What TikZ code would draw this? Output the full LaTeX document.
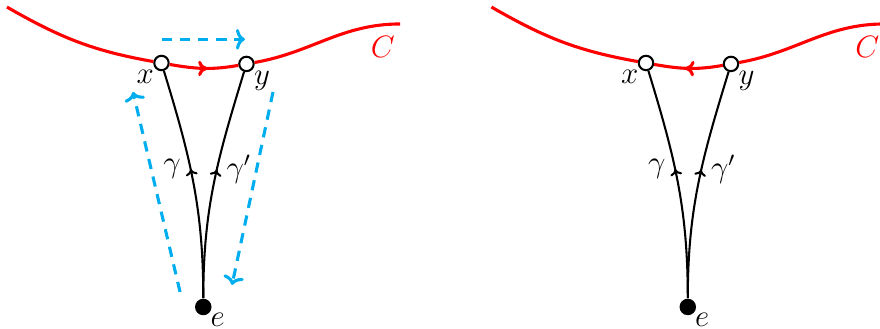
\documentclass[tikz,border=0pt]{standalone}
\usetikzlibrary{arrows.meta,positioning,calc,decorations.markings}
\definecolor{curvered}{RGB}{255,0,0}
\definecolor{moveblue}{RGB}{0,174,239}
\tikzset{
  pt/.style={circle, draw=black, fill=white, line width=0.8pt, inner sep=0pt, minimum size=5.6pt},
  base/.style={circle, fill=black, inner sep=0pt, minimum size=6.4pt},
  lbl/.style={inner sep=0.5pt},
  curve/.style={color=curvered, line width=1.2pt},
  geod/.style={draw=black, line width=0.8pt, postaction={decorate},
               decoration={markings, mark=at position 0.56 with {\arrow{Computer Modern Rightarrow[length=2.4pt,width=4.6pt]}}}},
  fwd/.style={postaction={decorate},
              decoration={markings, mark=at position 0.55 with {\arrow{Computer Modern Rightarrow[length=3.6pt,width=6pt]}}}},
  bwd/.style={postaction={decorate},
              decoration={markings, mark=at position 0.45 with {\arrowreversed{Computer Modern Rightarrow[length=3.6pt,width=6pt]}}}},
  move/.style={draw=moveblue, line width=1.2pt, dash pattern=on 4pt off 3pt,
               -{Computer Modern Rightarrow[length=3.5pt,width=8pt]}},
}

\begin{document}
\begin{tikzpicture}[font=\large]
  \useasboundingbox (0,0) rectangle (12,4.486);

  % left panel
  \begin{scope}
    \node[pt, label={[lbl]below left:$x$}] (xa) at (2.202,3.627) {};
    \node[pt, label={[lbl]below right:$y$}] (ya) at (3.361,3.614) {};
    \node[base, label={[lbl,inner sep=0pt]-40:$e$}] (ea) at (2.772,0.30) {};
    \coordinate (ca) at (0.095,4.39);
    \coordinate (da) at (5.455,4.159);
    \node[text=curvered] (Ca) at (5.22,3.85) {$C$};

    \draw[curve] (ca) to[out=-30,in=170] (xa);
    \draw[curve, fwd] (xa) to[out=-10,in=190] (ya);
    \draw[curve] (ya) to[out=10,in=180] (da);
    \draw[geod] (ea) to[out=90,in=-73] node[pos=0.57,left] {$\gamma$} (xa);
    \draw[geod] (ea) to[out=90,in=-107] node[pos=0.57,right] {$\gamma'$} (ya);

    % moves of the base point
    \coordinate (ta) at (2.21,3.95);
    \coordinate (tb) at (3.34,3.95);
    \coordinate (la) at (2.455,0.505);
    \coordinate (lb) at (1.814,3.232);
    \coordinate (ra) at (3.723,3.232);
    \coordinate (rb) at (3.164,0.600);
    \draw[move] (ta) -- (tb);
    \draw[move] (la) -- (lb);
    \draw[move] (ra) -- (rb);
  \end{scope}

  % right panel
  \begin{scope}[xshift=6.607cm]
    \node[pt, label={[lbl]below left:$x$}] (xb) at (2.202,3.627) {};
    \node[pt, label={[lbl]below right:$y$}] (yb) at (3.361,3.614) {};
    \node[base, label={[lbl,inner sep=0pt]-40:$e$}] (eb) at (2.772,0.30) {};
    \coordinate (cb) at (0.095,4.39);
    \coordinate (db) at (5.455,4.159);
    \node[text=curvered] (Cb) at (5.22,3.85) {$C$};

    \draw[curve] (cb) to[out=-30,in=170] (xb);
    \draw[curve, bwd] (xb) to[out=-10,in=190] (yb);
    \draw[curve] (yb) to[out=10,in=180] (db);
    \draw[geod] (eb) to[out=90,in=-73] node[pos=0.57,left] {$\gamma$} (xb);
    \draw[geod] (eb) to[out=90,in=-107] node[pos=0.57,right] {$\gamma'$} (yb);
  \end{scope}
\end{tikzpicture}
\end{document}
